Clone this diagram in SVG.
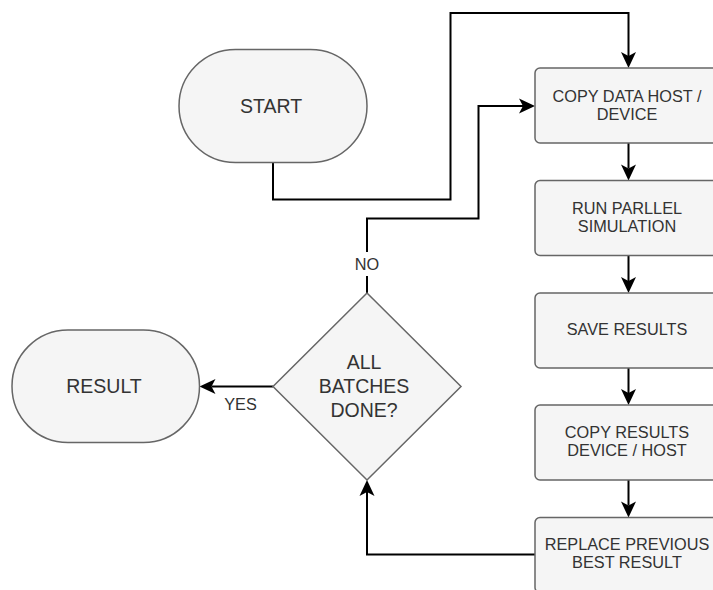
<svg xmlns="http://www.w3.org/2000/svg" width="713" height="590" viewBox="0 0 713 590">
  <style>
    .shape { fill: #f5f5f5; stroke: #666666; stroke-width: 1.5; }
    .txt { font-family: "Liberation Sans", Arial, Helvetica, sans-serif; fill: #333333; text-anchor: middle; }
    .big { font-size: 19.5px; }
    .small { font-size: 16.3px; }
    .edge { fill: none; stroke: #000000; stroke-width: 2; marker-end: url(#arrow); }
  </style>
  <defs>
    <marker id="arrow" viewBox="-17 -9 18 18" refX="-12" refY="0" markerWidth="18" markerHeight="18" markerUnits="userSpaceOnUse" orient="auto">
      <path d="M0,0 L-16,-7.5 L-12,0 L-16,7.5 Z" fill="#000000"/>
    </marker>
  </defs>
  <rect width="713" height="590" fill="#ffffff"/>

  <!-- connectors -->
  <g id="connectors">
    <path class="edge" d="M273,163 V199.5 H450.5 V13 H628.5 V56"/>
    <path class="edge" d="M628.5,143 V168.5"/>
    <path class="edge" d="M628.5,255.5 V281"/>
    <path class="edge" d="M628.5,368 V393"/>
    <path class="edge" d="M628.5,480 V505.5"/>
    <path class="edge" d="M535,554.5 H367 V492"/>
    <path class="edge" d="M367,293 V218.5 H478.5 V106 H523"/>
    <path class="edge" d="M273,386.5 H211.5"/>
    <rect x="353" y="252" width="28" height="24" fill="#ffffff"/>
    <text class="txt small" x="367" y="269.5">NO</text>
    <text class="txt small" x="240.5" y="410">YES</text>
  </g>

  <g id="start">
    <rect class="shape" x="179" y="49.5" width="188" height="113" rx="56.5" ry="56.5"/>
    <text class="txt big" x="271" y="113">START</text>
  </g>

  <g id="copy-host-device">
    <rect class="shape" x="535" y="68" width="186" height="75" rx="5"/>
    <text class="txt small" x="627" y="101.7">COPY DATA HOST /</text>
    <text class="txt small" x="627" y="120">DEVICE</text>
  </g>

  <g id="run-simulation">
    <rect class="shape" x="535" y="180.5" width="186" height="75" rx="5"/>
    <text class="txt small" x="627" y="214">RUN PARLLEL</text>
    <text class="txt small" x="627" y="232.3">SIMULATION</text>
  </g>

  <g id="save-results">
    <rect class="shape" x="535" y="293" width="186" height="75" rx="5"/>
    <text class="txt small" x="627" y="335">SAVE RESULTS</text>
  </g>

  <g id="copy-device-host">
    <rect class="shape" x="535" y="405" width="186" height="75" rx="5"/>
    <text class="txt small" x="627" y="437.7">COPY RESULTS</text>
    <text class="txt small" x="627" y="456">DEVICE / HOST</text>
  </g>

  <g id="replace-best">
    <rect class="shape" x="535" y="517.5" width="186" height="75" rx="5"/>
    <text class="txt small" x="627" y="550">REPLACE PREVIOUS</text>
    <text class="txt small" x="627" y="568.3">BEST RESULT</text>
  </g>

  <g id="all-done">
    <polygon class="shape" points="367,293 461,386.5 367,480 273,386.5"/>
    <text class="txt big" x="364" y="368.5">ALL</text>
    <text class="txt big" x="364" y="392.5">BATCHES</text>
    <text class="txt big" x="364" y="416.5">DONE?</text>
  </g>

  <g id="result">
    <rect class="shape" x="12" y="330" width="187.5" height="112.5" rx="56" ry="56"/>
    <text class="txt big" x="104" y="393.3">RESULT</text>
  </g>
</svg>
